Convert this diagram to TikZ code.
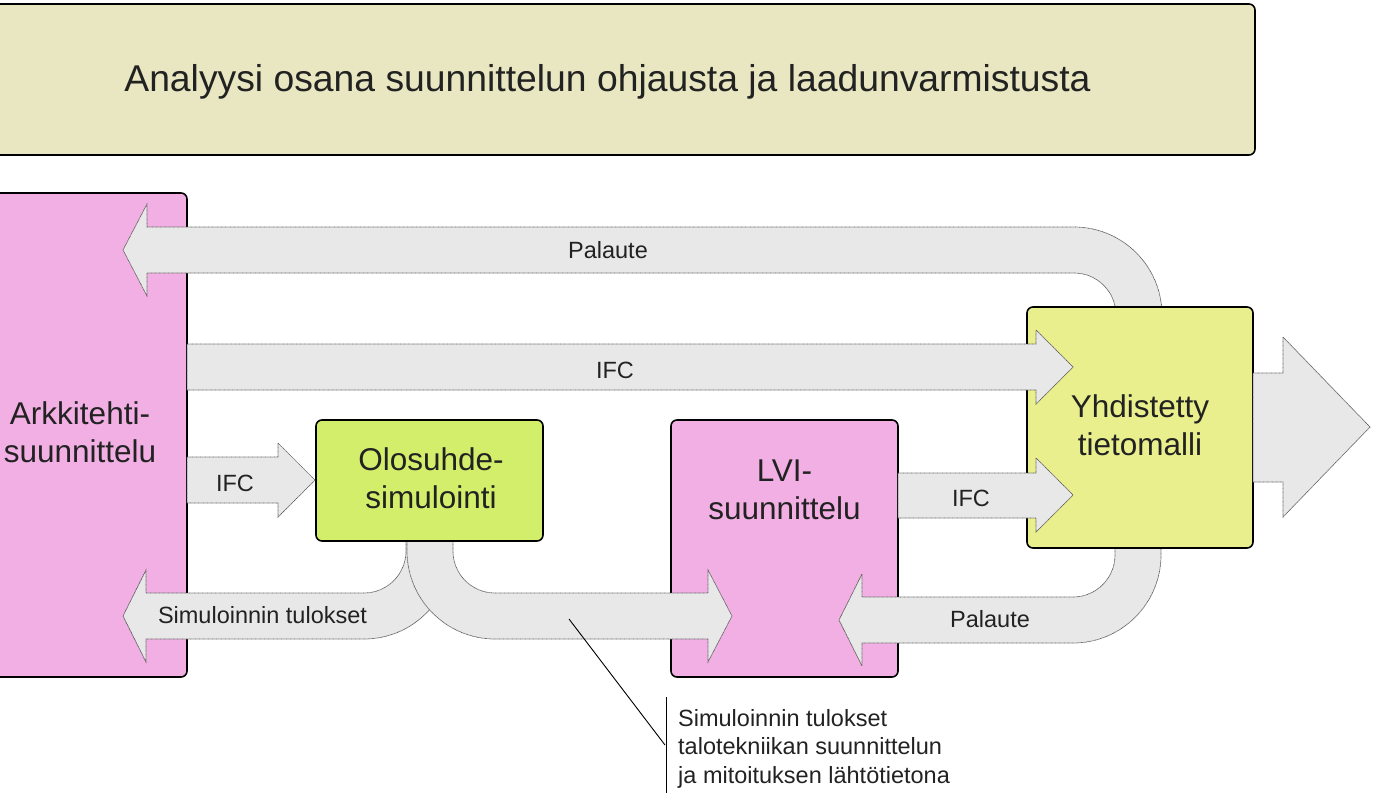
\documentclass[tikz,border=0pt]{standalone}
\usepackage{fontspec}
\setmainfont{Liberation Sans}
\definecolor{titlefill}{HTML}{E8E7C1}
\definecolor{pinkfill}{HTML}{F2AFE4}
\definecolor{greenfill}{HTML}{D3EE6B}
\definecolor{yellowfill}{HTML}{E8EF8C}
\definecolor{arrfill}{HTML}{E8E8E8}
\definecolor{arrdraw}{HTML}{5A5A5A}
\definecolor{txt}{HTML}{222222}
\tikzset{
  box/.style={draw=black, line width=1.6pt, rounded corners=6pt, inner sep=0pt, outer sep=0pt},
  fat/.style={fill=arrfill, draw=arrdraw, line width=0.7pt, dash pattern=on 0.8pt off 0.5pt},
  boxtxt/.style={align=center, font=\fontsize{31.5}{38}\selectfont, text=txt, inner sep=0pt},
  lbl/.style={font=\fontsize{23.5}{28.5}\selectfont, text=txt, anchor=base, inner sep=0pt},
  pointer/.style={draw=black, line width=0.9pt},
}
\begin{document}
\begin{tikzpicture}[x=1pt,y=-1pt]
\useasboundingbox (0,0) rectangle (1400,809);

% title
\node[box, fill=titlefill, minimum width=1295pt, minimum height=151pt] (title) at (607.5,79.5) {};
\node[font=\fontsize{37.3}{44}\selectfont, text=txt, anchor=base, inner sep=0pt] (titletext) at (607.5,91) {Analyysi osana suunnittelun ohjausta ja laadunvarmistusta};

% pink boxes
\node[box, fill=pinkfill, minimum width=228pt, minimum height=484pt] (ark) at (73,435) {};
\node[box, fill=pinkfill, minimum width=227pt, minimum height=257pt] (lvi) at (784.5,548.5) {};

% feedback and result arrows (under green/yellow boxes)
\path[fat] (1116,315) .. controls (1116,291.8) and (1097.2,273) .. (1074,273)
  -- (147,273) -- (147,296) -- (123,250) -- (147,204) -- (147,227) -- (1074,227)
  .. controls (1122.6,227) and (1162,266.4) .. (1162,315) -- cycle;
\path[fat] (1115,546) -- (1115,555) .. controls (1115,578.2) and (1096.2,597) .. (1073,597)
  -- (862,597) -- (862,574) -- (839,620) -- (862,666) -- (862,643) -- (1073,643)
  .. controls (1121.6,643) and (1161,603.6) .. (1161,555) -- (1161,546) -- cycle;
\path[fat] (406,539) -- (406,551) .. controls (406,574.2) and (387.2,593) .. (364,593)
  -- (146,593) -- (146,570) -- (123,616) -- (146,662) -- (146,639) -- (364,639)
  .. controls (412.6,639) and (452,599.6) .. (452,551) -- (452,539) -- cycle;
\path[fat] (453,539) -- (453,551) .. controls (453,574.2) and (471.8,593) .. (495,593)
  -- (708,593) -- (708,570) -- (732,616) -- (708,662) -- (708,639) -- (495,639)
  .. controls (446.4,639) and (407,599.6) .. (407,551) -- (407,539) -- cycle;

% green / yellow boxes
\node[box, fill=greenfill, minimum width=227pt, minimum height=121pt] (olo) at (429.5,480.5) {};
\node[box, fill=yellowfill, minimum width=226pt, minimum height=241pt] (yh) at (1140,427.5) {};

% IFC arrows and output arrow
\path[fat] (187,344) -- (1036,344) -- (1036,330) -- (1073,367) -- (1036,404) -- (1036,390) -- (187,390) -- cycle;
\path[fat] (187,457) -- (278,457) -- (278,443) -- (315,480) -- (278,517) -- (278,503) -- (187,503) -- cycle;
\path[fat] (898,473) -- (1036,473) -- (1036,458) -- (1073,495) -- (1036,532) -- (1036,518) -- (898,518) -- cycle;
\path[fat] (1253,373) -- (1283,373) -- (1283,337) -- (1370,427) -- (1283,517) -- (1283,482) -- (1253,482) -- cycle;

% box texts
\node[boxtxt] (arktext) at (80,432) {Arkkitehti-\\suunnittelu};
\node[boxtxt] (olotext) at (431,478) {Olosuhde-\\simulointi};
\node[boxtxt] (lvitext) at (784.5,490) {LVI-\\suunnittelu};
\node[boxtxt] (yhtext) at (1140,425.5) {Yhdistetty\\tietomalli};

% arrow labels
\node[lbl] (l1) at (608,258) {Palaute};
\node[lbl] (l2) at (615,378) {IFC};
\node[lbl] (l3) at (235,491) {IFC};
\node[lbl] (l4) at (971,506) {IFC};
\node[lbl] (l5) at (262.5,623) {Simuloinnin tulokset};
\node[lbl] (l6) at (990,627) {Palaute};

% annotation
\coordinate (ptr) at (569,619);
\coordinate (bend) at (665,745);
\coordinate (bartop) at (666,697);
\coordinate (barbot) at (666,793);
\draw[pointer] (ptr) -- (bend);
\draw[pointer] (bartop) -- (barbot);
\node[font=\fontsize{23.5}{28.5}\selectfont, text=txt, align=left, anchor=base west, inner sep=0pt] (note) at (678,783)
  {Simuloinnin tulokset\\talotekniikan suunnittelun\\ja mitoituksen lähtötietona};
\end{tikzpicture}
\end{document}
